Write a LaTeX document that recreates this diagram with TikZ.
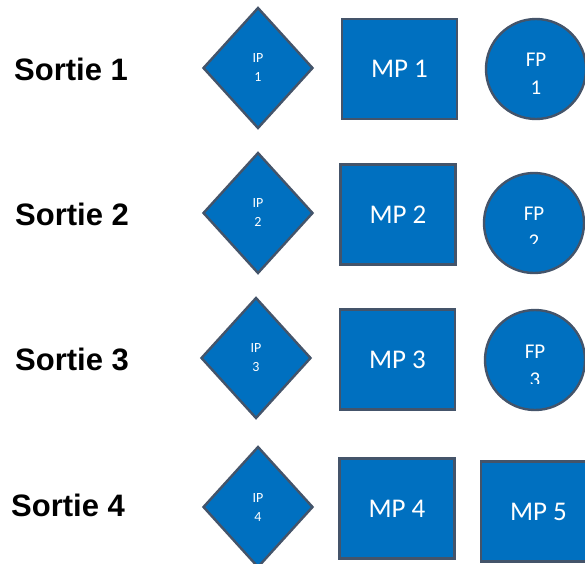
\documentclass[tikz,border=0pt]{standalone}
\usepackage{fontspec}
\setmainfont{Carlito}
\newfontfamily\labelfont{Liberation Sans}
\usetikzlibrary{shapes.geometric}
\definecolor{pfill}{HTML}{0070C0}
\definecolor{pline}{HTML}{44546A}
\begin{document}
\begin{tikzpicture}[x=1pt,y=-1pt,
  ipbox/.style={diamond, draw=pline, fill=pfill, line width=2.4pt, minimum width=110pt, minimum height=121pt, inner sep=0pt, text=white, font=\fontsize{14}{19}\selectfont, align=center},
  mpbox/.style={rectangle, draw=pline, fill=pfill, line width=2.4pt, minimum width=115pt, minimum height=100pt, inner sep=0pt, text=white, font=\fontsize{27}{32}\selectfont},
  fpbox/.style={circle, draw=pline, fill=pfill, line width=2.4pt, minimum size=100pt, inner sep=0pt},
  fptext/.style={text=white, font=\fontsize{21}{28}\selectfont, align=center, inner sep=0pt},
  sortie/.style={font=\labelfont\bfseries\fontsize{31}{36}\selectfont, inner sep=0pt}]
\clip (0,0) rectangle (585,563);
\fill[white] (0,0) rectangle (585,563);
% labels
\node[sortie] (s1) at (71,69) {Sortie 1};
\node[sortie] (s2) at (72,214) {Sortie 2};
\node[sortie] (s3) at (72,359) {Sortie 3};
\node[sortie] (s4) at (68,505) {Sortie 4};
% diamonds
\node[ipbox] (ip1) at (258,68) {IP\\1};
\node[ipbox] (ip2) at (258,213) {IP\\2};
\node[ipbox] (ip3) at (256,358) {IP\\3};
\node[ipbox] (ip4) at (258,507) {IP\\4};
% rectangles
\node[mpbox] (mp1) at (399.5,69) {MP 1};
\node[mpbox] (mp2) at (398,214.5) {MP 2};
\node[mpbox] (mp3) at (397.5,359.5) {MP 3};
\node[mpbox] (mp4) at (397,508.5) {MP 4};
\node[mpbox] (mp5) at (538.5,511.5) {MP 5};
% circles
\node[fpbox] (fp1) at (536,69) {};
\node[fpbox] (fp2) at (534,223) {};
\node[fpbox] (fp3) at (535,360) {};
\node[fptext] (fp1t) at (536,74) {FP\\1};
\begin{scope}
  \clip (484,170) rectangle (586,243);
  \node[fptext] (fp2t) at (534,228) {FP\\2};
\end{scope}
\begin{scope}
  \clip (484,305) rectangle (586,383);
  \node[fptext] (fp3t) at (535,366) {FP\\3};
\end{scope}
\end{tikzpicture}
\end{document}
